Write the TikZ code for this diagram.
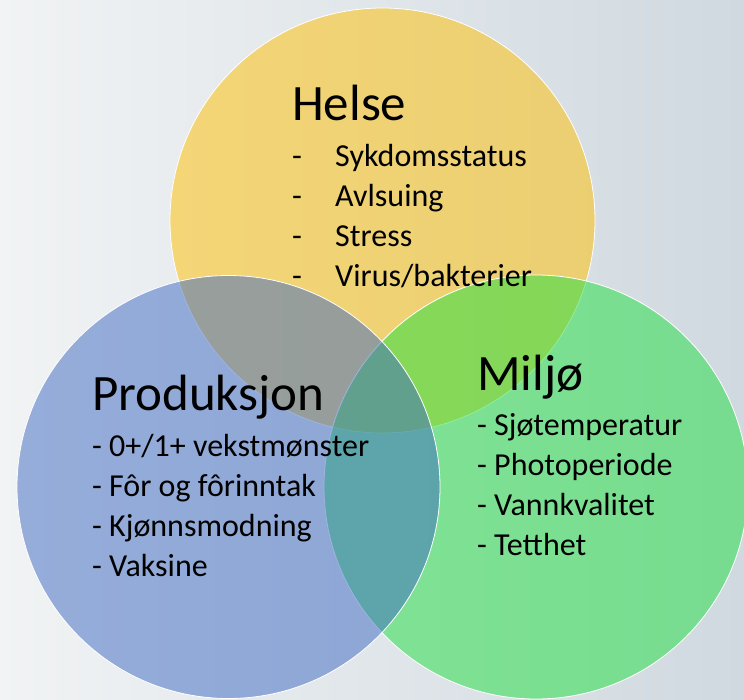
\documentclass[tikz,border=0pt]{standalone}
\usepackage{fontspec}
\setmainfont{Carlito}
\usepackage{tikz}
\usepackage{xcolor}
\definecolor{helsecol}{RGB}{255,192,0}
\definecolor{prodcol}{RGB}{61,105,194}
\definecolor{miljocol}{RGB}{31,223,64}
\definecolor{bgleft}{RGB}{241,243,244}
\definecolor{bgright}{RGB}{208,217,224}

\begin{document}
\begin{tikzpicture}[x=1pt,y=-1pt,
        venn/.style={draw=white, line width=0.8pt, fill opacity=0.5},
        title/.style={anchor=base west, inner sep=0pt, font=\fontsize{51}{60}\selectfont},
        item/.style={anchor=base west, inner sep=0pt, font=\fontsize{32}{38}\selectfont}]
                % background
                \shade[left color=bgleft, right color=bgright] (0,0) rectangle (744,699);
                \useasboundingbox (0,0) rectangle (744,699);
                % circles
                \filldraw[venn, fill=helsecol] (382.5,220.5) circle (212.5pt);
                \filldraw[venn, fill=miljocol] (536,487) circle (212pt);
                \filldraw[venn, fill=prodcol] (228.5,487) circle (211.5pt);
                % Helse
                \node[title] (helse) at (292,120) {Helse};
                \foreach \txt [count=\i] in {Sykdomsstatus, Avlsuing, Stress, Virus/bakterier}
                    \node[item] (helse\i) at (292,126+40*\i) {\makebox[43pt][l]{-}\txt};
                % Produksjon
                \node[title] (prod) at (92,410) {Produksjon};
                \foreach \txt [count=\i] in {0+/1+ vekstmønster, Fôr og fôrinntak, Kjønnsmodning, Vaksine}
                    \node[item] (prod\i) at (92,416+40*\i) {- \txt};
                % Miljø
                \node[title] (miljo) at (477,390) {Miljø};
                \foreach \txt [count=\i] in {Sjøtemperatur, Photoperiode, Vannkvalitet, Tetthet}
                    \node[item] (miljo\i) at (477,395+40*\i) {- \txt};
            \end{tikzpicture}
\end{document}
